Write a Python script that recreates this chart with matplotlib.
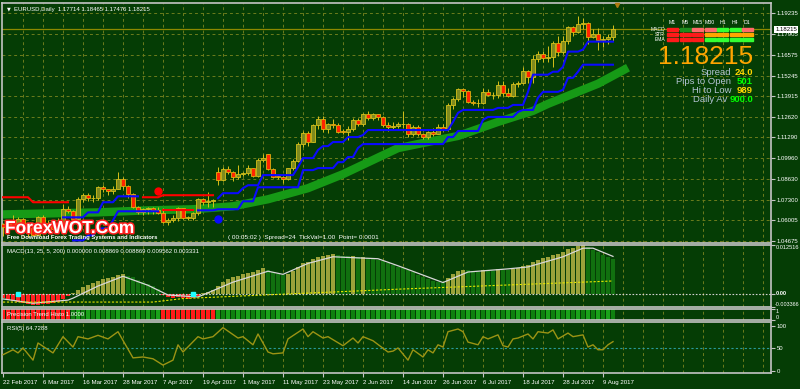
import numpy as np
import matplotlib
matplotlib.use('Agg')
import matplotlib.pyplot as plt
from matplotlib.patches import Rectangle
from matplotlib import patheffects as pe
from matplotlib.transforms import blended_transform_factory

plt.rcParams['font.family'] = ['Liberation Sans', 'DejaVu Sans']

# ---- price data (EURUSD daily, 22 Feb 2017 .. 11 Aug 2017) ----
opens = [1.0575, 1.0557, 1.0585, 1.0562, 1.0604, 1.0575, 1.0545, 1.0505, 1.0620, 1.0580,
         1.0576, 1.0542, 1.0581, 1.0672, 1.0655, 1.0604, 1.0734, 1.0762, 1.0740, 1.0740,
         1.0808, 1.0797, 1.0782, 1.0799, 1.0865, 1.0815, 1.0765, 1.0680, 1.0651, 1.0668,
         1.0675, 1.0662, 1.0644, 1.0588, 1.0599, 1.0610, 1.0675, 1.0614, 1.0615, 1.0642,
         1.0732, 1.0716, 1.0718, 1.0905, 1.0855, 1.0928, 1.0907, 1.0873, 1.0895, 1.0899,
         1.0931, 1.0882, 1.0985, 1.1022, 1.0927, 1.0876, 1.0873, 1.0864, 1.0932, 1.0980,
         1.1088, 1.1158, 1.1101, 1.1207, 1.1245, 1.1183, 1.1215, 1.1210, 1.1166, 1.1163,
         1.1182, 1.1243, 1.1213, 1.1281, 1.1252, 1.1276, 1.1260, 1.1210, 1.1196, 1.1200,
         1.1212, 1.1217, 1.1151, 1.1197, 1.1150, 1.1133, 1.1165, 1.1151, 1.1195, 1.1180,
         1.1338, 1.1375, 1.1441, 1.1426, 1.1357, 1.1347, 1.1349, 1.1422, 1.1400, 1.1402,
         1.1465, 1.1413, 1.1395, 1.1470, 1.1478, 1.1556, 1.1517, 1.1633, 1.1665, 1.1641,
         1.1645, 1.1734, 1.1678, 1.1750, 1.1836, 1.1803, 1.1858, 1.1862, 1.1773, 1.1792,
         1.1755, 1.1757, 1.17714]
highs = [1.0580, 1.0600, 1.0630, 1.0618, 1.0610, 1.0580, 1.0555, 1.0624, 1.0630, 1.0598,
         1.0585, 1.0614, 1.0700, 1.0688, 1.0660, 1.0746, 1.0775, 1.0774, 1.0762, 1.0818,
         1.0825, 1.0800, 1.0817, 1.0906, 1.0874, 1.0826, 1.0772, 1.0692, 1.0675, 1.0680,
         1.0685, 1.0682, 1.0679, 1.0612, 1.0630, 1.0680, 1.0678, 1.0625, 1.0650, 1.0738,
         1.0739, 1.0777, 1.0736, 1.0937, 1.0940, 1.0944, 1.0916, 1.0951, 1.0910, 1.0951,
         1.0935, 1.0994, 1.1022, 1.1023, 1.0935, 1.0893, 1.0879, 1.0935, 1.0990, 1.1098,
         1.1172, 1.1170, 1.1212, 1.1268, 1.1263, 1.1222, 1.1250, 1.1223, 1.1180, 1.1200,
         1.1251, 1.1255, 1.1285, 1.1296, 1.1283, 1.1282, 1.1268, 1.1225, 1.1230, 1.1230,
         1.1296, 1.1222, 1.1210, 1.1206, 1.1159, 1.1173, 1.1187, 1.1213, 1.1212, 1.1347,
         1.1389, 1.1445, 1.1446, 1.1430, 1.1367, 1.1372, 1.1444, 1.1438, 1.1421, 1.1490,
         1.1489, 1.1446, 1.1487, 1.1492, 1.1583, 1.1559, 1.1658, 1.1683, 1.1680, 1.1713,
         1.1745, 1.1777, 1.1777, 1.1846, 1.1845, 1.1910, 1.1892, 1.1868, 1.1823, 1.1829,
         1.1776, 1.1790, 1.18465]
lows = [1.0494, 1.0547, 1.0554, 1.0559, 1.0566, 1.0493, 1.0494, 1.0500, 1.0559, 1.0560,
        1.0536, 1.0525, 1.0573, 1.0644, 1.0600, 1.0599, 1.0712, 1.0718, 1.0714, 1.0725,
        1.0778, 1.0762, 1.0765, 1.0797, 1.0799, 1.0741, 1.0677, 1.0635, 1.0630, 1.0640,
        1.0638, 1.0637, 1.0580, 1.0570, 1.0584, 1.0593, 1.0605, 1.0600, 1.0600, 1.0634,
        1.0695, 1.0683, 1.0684, 1.0821, 1.0851, 1.0894, 1.0851, 1.0865, 1.0880, 1.0885,
        1.0873, 1.0876, 1.0968, 1.0918, 1.0868, 1.0863, 1.0838, 1.0858, 1.0920, 1.0972,
        1.1068, 1.1075, 1.1097, 1.1185, 1.1166, 1.1160, 1.1188, 1.1160, 1.1148, 1.1109,
        1.1170, 1.1205, 1.1200, 1.1242, 1.1238, 1.1243, 1.1196, 1.1172, 1.1185, 1.1190,
        1.1190, 1.1132, 1.1140, 1.1140, 1.1120, 1.1118, 1.1138, 1.1148, 1.1173, 1.1172,
        1.1313, 1.1365, 1.1390, 1.1347, 1.1335, 1.1325, 1.1346, 1.1394, 1.1374, 1.1380,
        1.1395, 1.1387, 1.1391, 1.1450, 1.1470, 1.1479, 1.1480, 1.1611, 1.1612, 1.1612,
        1.1583, 1.1653, 1.1661, 1.1728, 1.1779, 1.1798, 1.1827, 1.1728, 1.1765, 1.1689,
        1.1709, 1.1730, 1.17476]
closes = [1.0557, 1.0585, 1.0562, 1.0604, 1.0575, 1.0545, 1.0505, 1.0620, 1.0580, 1.0576,
          1.0542, 1.0581, 1.0672, 1.0655, 1.0604, 1.0734, 1.0762, 1.0740, 1.0740, 1.0808,
          1.0797, 1.0782, 1.0799, 1.0865, 1.0815, 1.0765, 1.0680, 1.0651, 1.0668, 1.0675,
          1.0662, 1.0644, 1.0588, 1.0599, 1.0610, 1.0675, 1.0614, 1.0615, 1.0642, 1.0732,
          1.0716, 1.0718, 1.0726, 1.0855, 1.0928, 1.0907, 1.0873, 1.0895, 1.0899, 1.0931,
          1.0882, 1.0985, 1.0998, 1.0927, 1.0876, 1.0873, 1.0864, 1.0932, 1.0980, 1.1088,
          1.1158, 1.1101, 1.1207, 1.1245, 1.1183, 1.1215, 1.1210, 1.1166, 1.1163, 1.1182,
          1.1243, 1.1213, 1.1281, 1.1252, 1.1276, 1.1260, 1.1210, 1.1196, 1.1200, 1.1212,
          1.1217, 1.1151, 1.1197, 1.1150, 1.1133, 1.1165, 1.1151, 1.1195, 1.1180, 1.1338,
          1.1375, 1.1441, 1.1426, 1.1357, 1.1347, 1.1349, 1.1422, 1.1400, 1.1402, 1.1465,
          1.1413, 1.1395, 1.1470, 1.1478, 1.1556, 1.1517, 1.1633, 1.1665, 1.1641, 1.1645,
          1.1734, 1.1678, 1.1750, 1.1836, 1.1803, 1.1858, 1.1862, 1.1773, 1.1792, 1.1755,
          1.1757, 1.1771, 1.18215]

date_labels = ['22 Feb 2017', '6 Mar 2017', '16 Mar 2017', '28 Mar 2017', '7 Apr 2017',
               '19 Apr 2017', '1 May 2017', '11 May 2017', '23 May 2017', '2 Jun 2017',
               '14 Jun 2017', '26 Jun 2017', '6 Jul 2017', '18 Jul 2017', '28 Jul 2017',
               '9 Aug 2017']
price_ticks = [1.19235, 1.17905, 1.16575, 1.15245, 1.13915, 1.12620, 1.11290,
               1.09960, 1.08630, 1.07300, 1.06005, 1.04675]

# thick green moving average (bar index, price) - shifted a few bars forward
ma_idx = [0, 19, 29, 38, 46, 53, 61, 68, 79, 86, 91, 99, 106, 109, 119, 125]
ma_val = [1.0635, 1.0648, 1.0661, 1.0668, 1.0687, 1.0732, 1.0803, 1.0893, 1.1060,
          1.1106, 1.1138, 1.1228, 1.1299, 1.1344, 1.1473, 1.1576]

# trailing stop lines as runs: (first bar, last bar, level)
fast_blue_1 = [(12, 16, 1.0616), (17, 19, 1.0648), (20, 22, 1.0713), (23, 27, 1.0751)]
fast_red = [(28, 31, 1.0745), (32, 42, 1.0758)]
fast_blue_2 = [(43, 43, 1.0739), (44, 47, 1.0771), (48, 48, 1.0803), (49, 51, 1.0822),
               (52, 58, 1.0887), (59, 59, 1.0938), (60, 62, 1.0996), (63, 63, 1.1048),
               (64, 65, 1.1073), (66, 68, 1.1099), (69, 71, 1.1131), (72, 72, 1.1144),
               (73, 89, 1.1176), (90, 90, 1.1228), (91, 91, 1.1286), (92, 98, 1.1305),
               (99, 101, 1.1318), (102, 104, 1.1337), (105, 105, 1.1421), (106, 109, 1.1531),
               (110, 111, 1.1550), (112, 112, 1.1582), (113, 115, 1.1679), (116, 116, 1.1692),
               (117, 122, 1.1743)]
slow_red_1 = [(0, 5, 1.0745), (6, 13, 1.0713)]
slow_blue_1 = [(14, 16, 1.0468), (17, 18, 1.0500), (19, 21, 1.0545), (22, 22, 1.0597),
               (23, 31, 1.0655)]
slow_red_2 = [(32, 38, 1.0661)]
slow_blue_2 = [(39, 42, 1.0661), (43, 47, 1.0668), (48, 50, 1.0719), (51, 59, 1.0809),
               (60, 62, 1.0919), (63, 66, 1.0932), (67, 68, 1.0970), (69, 70, 1.1003),
               (71, 71, 1.1061), (72, 88, 1.1086), (89, 90, 1.1131), (91, 95, 1.1170),
               (96, 96, 1.1241), (97, 102, 1.1260), (103, 103, 1.1292), (104, 106, 1.1305),
               (107, 107, 1.1383), (108, 111, 1.1421), (112, 112, 1.1434), (113, 114, 1.1511),
               (115, 115, 1.1550), (116, 122, 1.1595)]
red_dot = (31, 1.0784)
blue_dot = (43, 1.0603)

# MACD histogram (x1e-3)
macd_hist = [-1.0, -1.5, -1.8, -2.0, -2.3, -2.6, -2.9, -2.8, -2.6, -2.5, -2.3, -2.0,
             -1.2, -0.5, 0.3, 1.1, 1.8, 2.3, 2.8, 3.3, 3.8, 4.1, 4.4, 4.8, 5.0,
             4.7, 4.2, 3.6, 3.1, 2.6, 2.0, 1.2,
             -0.4, -0.8, -1.0, -0.9, -1.1, -1.2, -1.0, -0.5,
             0.2, 0.6, 1.0, 2.0, 3.0, 3.7, 4.2, 4.7, 5.0, 5.4, 5.6, 6.2, 6.6,
             6.2, 5.6, 5.2, 4.9,
             5.2, 5.8, 6.8, 7.8, 8.2, 8.9, 9.5, 9.6, 9.9, 10.1,
             9.9, 9.7, 9.6, 9.6, 9.4, 9.5, 9.3, 9.1, 8.8, 8.4, 7.9, 7.4, 7.0, 6.6, 6.0,
             5.5, 4.9, 4.3, 3.8, 3.4, 3.1, 2.8,
             4.0, 5.0, 5.9, 6.2, 6.0, 5.8, 5.6, 6.1, 6.0, 5.9, 6.3, 6.2, 6.0, 6.4, 6.6,
             7.2, 7.3, 8.1, 8.8, 9.1, 9.4, 10.0, 10.2, 10.7, 11.4, 11.7, 12.2, 12.5,
             12.0, 11.3, 10.6, 10.0, 9.4, 8.9]
sig_idx = [0, 6, 13, 14, 19, 24, 29, 33, 39, 46, 53, 56, 61, 66, 75, 79, 88, 93,
           101, 105, 112, 116, 118, 122]
sig_val = [-1.3, -2.4, -1.6, -1.1, 2.0, 4.5, 2.2, -0.3, -0.8, 3.0, 5.8, 5.0, 7.8, 9.5,
           9.0, 7.2, 2.9, 5.6, 6.4, 6.9, 9.5, 11.7, 11.7, 9.6]
slow_idx = [0, 30, 36, 79, 122]
slow_val = [-2.1, -2.1, -1.2, 1.2, 3.3]
cross_idx = [3, 38]

# precision trend: red stretches
pt_red = [(0, 13), (32, 42)]

# RSI(5)
rsi_idx = [0, 2, 3, 4, 6, 7, 10, 12, 14, 15, 17, 19, 21, 23, 26, 28, 30, 32, 34, 35, 36,
           39, 40, 42, 44, 47, 48, 50, 51, 53, 54, 56, 57, 60, 61, 62, 64, 65, 68, 70, 71,
           72, 74, 77, 78, 79, 81, 82, 84, 85, 86, 87, 88, 89, 91, 92, 93, 95, 96, 97, 99,
           100, 101, 102, 103, 105, 106, 107, 109, 110, 111, 113, 114, 116, 117, 118, 119,
           120, 121, 122]
rsi_val = [36, 47, 40, 51, 24, 62, 40, 76, 53, 76, 71, 79, 71, 87, 29, 31, 27, 13, 24, 58, 42,
           76, 71, 76, 96, 73, 76, 58, 82, 42, 38, 40, 71, 93, 76, 87, 73, 76, 56, 73, 62,
           76, 67, 42, 44, 51, 24, 47, 31, 47, 40, 58, 53, 87, 93, 87, 64, 58, 76, 71, 80,
           56, 53, 71, 73, 82, 71, 87, 84, 91, 71, 84, 76, 80, 53, 58, 47,
           47, 58, 65]

# ---- style ----
W, H = 800, 389
BG = '#053d05'
GRID = '#6c7c1c'
FRAME = '#c4c4c4'
TXT = 'white'

fig = plt.figure(figsize=(8, 3.89), dpi=100, facecolor=BG)


def px_axes(x0, y0, x1, y1):
    ax = fig.add_axes([x0 / W, 1 - y1 / H, (x1 - x0) / W, (y1 - y0) / H])
    ax.set_facecolor(BG)
    for s in ax.spines.values():
        s.set_color(FRAME)
        s.set_linewidth(1.2)
    ax.set_xlim(-0.2, 153.6)
    for gx in range(4, 154, 4):
        ax.axvline(gx, color=GRID, lw=0.7, ls=(0, (3, 3)), zorder=0)
    ax.tick_params(axis='x', bottom=False, labelbottom=False)
    ax.tick_params(axis='y', left=False, labelleft=False, right=True, labelright=True,
                   direction='out', length=3, color=FRAME, labelcolor=TXT,
                   labelsize=4.3, pad=1)
    return ax


def expand(runs):
    xs, ys = [], []
    for a, b, v in runs:
        for k in range(a, b + 1):
            xs.append(k)
            ys.append(v)
    return xs, ys


n = len(closes)
idx = np.arange(n)

# ---- price panel ----
ax = px_axes(2, 3, 771, 243)
ax.set_ylim(1.04515, 1.19908)
ax.set_yticks(price_ticks)
ax.set_yticklabels(['%.5f' % p for p in price_ticks])
for p in price_ticks:
    ax.axhline(p, color=GRID, lw=0.7, ls=(0, (3, 3)), zorder=0)
ax.axhline(closes[-1], color='#8c8a00', lw=0.9, zorder=1)

ax.plot(ma_idx, ma_val, color='#169a16', lw=6, solid_capstyle='butt', zorder=2)

o = np.array(opens); c = np.array(closes)
up = c >= o
ax.vlines(idx, lows, highs, color='#d6c01a', lw=0.7, zorder=3)
body = np.where(np.abs(c - o) < 0.0003, 0.0003, c - o)
ax.bar(idx[up], body[up], bottom=o[up], width=0.62, color='#7e8a1e',
       edgecolor='#d6c01a', lw=0.6, zorder=4)
ax.bar(idx[~up], body[~up], bottom=o[~up], width=0.62, color='#ff2400',
       edgecolor='#e0b010', lw=0.6, zorder=4)

for runs, col in [(fast_blue_1, '#0a0aff'), (fast_red, '#ff0000'), (fast_blue_2, '#0a0aff'),
                  (slow_red_1, '#ff0000'), (slow_blue_1, '#0a0aff'), (slow_red_2, '#ff0000'),
                  (slow_blue_2, '#0a0aff')]:
    xs, ys = expand(runs)
    ax.plot(xs, ys, color=col, lw=1.5, zorder=5)
ax.plot(*red_dot, 'o', color='#ff0000', ms=5, zorder=6)
ax.plot(*blue_dot, 'o', color='#0a0aff', ms=5, zorder=6)
ax.plot(122.8, 1.1975, 'v', color='#b07a10', ms=3, clip_on=False, zorder=6)

ax.annotate('%.5f' % closes[-1], xy=(1.0, closes[-1]),
            xycoords=blended_transform_factory(ax.transAxes, ax.transData),
            xytext=(3, 0), textcoords='offset points', ha='left', va='center',
            fontsize=4.3, color='black',
            bbox=dict(boxstyle='square,pad=0.15', fc='white', ec='none'))

ax.text(0.006, 0.985, '\u25bc', transform=ax.transAxes, fontsize=3.5, color=TXT,
        va='top', family='DejaVu Sans')
ax.text(0.015, 0.985, 'EURUSD,Daily  %.5f %.5f %.5f %.5f' % (opens[-1], highs[-1], lows[-1], closes[-1]),
        transform=ax.transAxes, fontsize=4.3, color=TXT, va='top')


def ftext(x, y, s, **kw):
    return fig.text(x / W, 1 - y / H, s, **kw)


# ForexWOT watermark
ftext(5, 233, 'ForexWOT.Com', fontsize=12.5, weight='bold', color='white',
      path_effects=[pe.withStroke(linewidth=2.2, foreground='#ff2020')])
ftext(7, 239.5, 'Free Download Forex Trading Systems and Indicators', fontsize=4.2,
      weight='bold', color='white')
ftext(228, 239.5, '( 00:05:02 )  Spread=24  TickVal=1.00  Point= 0.0001', fontsize=4.6,
      color='white')

# multi-timeframe table
tfs = ['M1', 'M5', 'M15', 'M30', 'H1', 'H4', 'D1']
rows = ['MACD', 'STR', 'EMA']
row_colors = [['#ff1a1a', '#1e8c1e', '#ff6a6a', '#ff6a6a', '#33ff33', '#33ff33', '#ff6a6a'],
              ['#ff1a1a', '#ff1a1a', '#ff1a1a', '#ffa500', '#ffa500', '#ffa500', '#ffa500'],
              ['#ff1a1a', '#ff1a1a', '#ff1a1a', '#33ff33', '#33ff33', '#33ff33', '#33ff33']]
col_x = [667, 679.5, 692, 704.5, 717, 729.5, 742]
row_y = [28, 33, 38]
for j, tf in enumerate(tfs):
    ftext(col_x[j] + 5.5, 24, tf, fontsize=3.8, color=TXT, ha='center')
for r, name in enumerate(rows):
    ftext(665, row_y[r] + 2.8, name, fontsize=3.6, color=TXT, ha='right')
    for j in range(len(tfs)):
        fig.add_artist(Rectangle((col_x[j] / W, 1 - (row_y[r] + 3) / H), 11 / W, 3 / H,
                                 transform=fig.transFigure, color=row_colors[r][j]))

ftext(753, 64, '%.5f' % closes[-1], fontsize=19, color='#ffa500', ha='right', va='baseline')
info = [('Spread', '24.0', '#ffd700', 75), ('Pips to Open', '501', '#00ff00', 84),
        ('Hi to Low', '989', '#ffd700', 93), ('Daily Av', '900.0', '#00ff00', 102)]
for lab, val, col, yy in info:
    ftext(753, yy, val, fontsize=6.8, color=col, ha='right', va='baseline', weight='bold')
    ftext(727 if lab == 'Daily Av' else 731, yy, lab, fontsize=6.8, color='#b4c4d4',
          ha='right', va='baseline')

# ---- MACD panel ----
am = px_axes(2, 245, 771, 307)
am.set_ylim(-0.003366, 0.012516)
am.set_yticks([0.012516, 0.0, -0.003366])
am.set_yticklabels([])
bt = blended_transform_factory(am.transAxes, am.transData)
am.text(1.006, 0.012516, '0.012516', transform=bt, fontsize=4.1, color=TXT, va='top')
am.text(1.006, 0.0, '0.00', transform=bt, fontsize=4.1, color=TXT, va='center', weight='bold')
am.text(1.005, -0.003366, '-0.003366', transform=bt, fontsize=3.9, color=TXT, va='bottom')
hist = np.array(macd_hist) / 1000.0
cols = []
for k in range(n):
    if hist[k] < 0:
        cols.append('#ff2020')
    elif k > 0 and hist[k] < hist[k - 1]:
        cols.append('#11700f')
    else:
        cols.append('#9aa23a')
am.bar(idx, hist, width=0.62, color=cols, zorder=2)
am.axhline(0, color='#d0d0d0', lw=0.8, ls=(0, (1.5, 1.5)), zorder=3)
am.plot(sig_idx, np.array(sig_val) / 1000.0, color='#d8d8d8', lw=0.9, zorder=4)
am.plot(slow_idx, np.array(slow_val) / 1000.0, color='#e6e600', lw=0.8, ls=(0, (2, 1.5)), zorder=4)
am.plot(cross_idx, [0, 0], 's', color='#20ffff', ms=2.5, zorder=5)
am.text(0.006, 0.93, 'MACD(13, 25, 5, 200) 0.000000 0.008869 0.008869 0.009562 0.003331',
        transform=am.transAxes, fontsize=4.3, color=TXT, va='top')

# ---- precision trend panel ----
ap = px_axes(2, 309, 771, 320)
ap.set_ylim(0, 1)
ap.set_yticks([1, 0])
ap.set_yticklabels([])
ap.text(1.006, 1.0, '1', transform=ap.transAxes, fontsize=4.1, color=TXT, va='top')
ap.text(1.006, 0.0, '0', transform=ap.transAxes, fontsize=4.1, color=TXT, va='bottom')
pt_cols = []
for k in range(n):
    red = any(a <= k <= b for a, b in pt_red)
    pt_cols.append('#ff1a1a' if red else ('#1aa31a' if k % 2 else '#0f800f'))
ap.bar(idx, 1, width=0.62, color=pt_cols, zorder=2)
ap.text(0.006, 0.5, 'Precision Trend Histo 1.0000', transform=ap.transAxes, fontsize=4.3,
        color=TXT, va='center', zorder=5)

# ---- RSI panel ----
ar = px_axes(2, 322, 771, 373)
ar.set_ylim(-4.5, 108.5)
ar.set_yticks([100, 50, 0])
ar.set_yticklabels(['100', '50', '0'])
ar.axhline(50, color='#2a9a9a', lw=0.8, ls=(0, (2, 2)), zorder=1)
ar.plot(rsi_idx, rsi_val, color='#9c9414', lw=1.0, zorder=3)
ar.text(0.006, 0.93, 'RSI(5) 64.7288', transform=ar.transAxes, fontsize=4.3, color=TXT, va='top')
ar.set_xticks(list(range(0, 121, 8)))
ar.set_xticklabels(date_labels)
ar.tick_params(axis='x', bottom=True, labelbottom=True, direction='out', length=3,
               color=FRAME, labelcolor=TXT, labelsize=4.4, pad=2)
for lbl in ar.get_xticklabels():
    lbl.set_ha('left')

fig.savefig('out.png', dpi=100, facecolor=BG)
